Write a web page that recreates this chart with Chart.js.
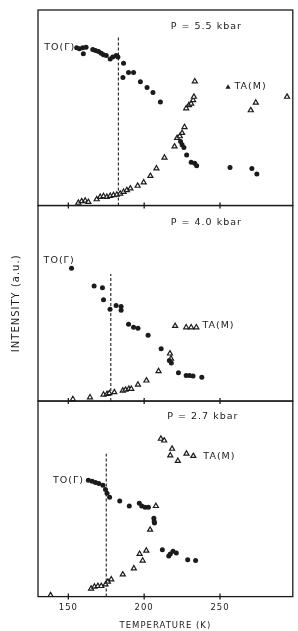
<!DOCTYPE html>
<html>
<head>
<meta charset="utf-8">
<script src="https://cdn.jsdelivr.net/npm/chart.js@4.4.0/dist/chart.umd.min.js"></script>
<style>
html, body { margin: 0; padding: 0; background: #fff; }
#wrap { width: 298px; height: 631px; }
</style>
</head>
<body>
<div id="wrap"><canvas id="chart"></canvas></div>
<script>
// temperature ticks (K) and panel pressures
const xTicks = [150, 200, 250];
const panelLabels = ['P = 5.5 kbar', 'P = 4.0 kbar', 'P = 2.7 kbar'];

// transition temperature (dashed line) and how high it reaches in each panel
const tcTemps = [183, 178, 175];
const tcTops = [87, 65, 73];

// P = 5.5 kbar
const to55Temps = [155.5, 157.3, 159.9, 159.5, 161.7, 166.1, 167.9, 169.9, 171.7, 173.2, 175.0, 177.6, 179.3, 181.6, 182.7, 186.4, 186.0, 189.7, 193.0, 197.5, 201.9, 205.8, 210.7, 224.0, 225.0, 226.2, 228.0, 231.0, 233.3, 234.6, 256.6, 271.0, 274.3];
const to55Int = [80.7, 80.2, 77.6, 80.7, 81.0, 79.8, 79.3, 78.8, 77.9, 77.1, 76.7, 75.0, 75.9, 76.7, 75.9, 72.8, 65.5, 68.1, 68.1, 63.3, 60.4, 57.8, 53.0, 32.8, 31.1, 29.7, 25.9, 22.1, 21.6, 20.3, 19.5, 19.0, 16.1];
const ta55Temps = [156.6, 158.8, 161.1, 163.2, 168.7, 171.0, 173.2, 175.4, 177.6, 179.8, 182.0, 184.2, 186.4, 188.6, 190.9, 195.7, 199.7, 204.1, 208.1, 213.4, 220.0, 221.7, 223.5, 225.0, 226.6, 227.7, 229.5, 231.0, 232.3, 232.8, 233.4, 270.3, 273.6, 294.2];
const ta55Int = [1.4, 2.2, 2.5, 1.8, 3.2, 4.4, 4.8, 4.4, 4.9, 5.3, 5.6, 6.1, 7.0, 7.9, 8.7, 10.1, 11.8, 15.1, 19.0, 24.5, 30.2, 34.5, 35.4, 37.1, 40.1, 49.7, 51.3, 52.1, 53.9, 55.6, 63.5, 48.7, 52.6, 55.6];

// P = 4.0 kbar
const to40Temps = [152.1, 167.0, 172.5, 173.2, 177.5, 181.5, 184.8, 184.8, 189.7, 193.0, 195.9, 202.6, 211.2, 216.6, 217.9, 222.6, 227.7, 229.9, 232.2, 238.0];
const to40Int = [67.9, 58.8, 57.9, 51.8, 47.0, 48.9, 48.4, 46.4, 39.3, 37.7, 37.2, 33.7, 26.7, 20.7, 19.5, 14.5, 13.1, 13.1, 12.8, 12.2];
const ta40Temps = [153.0, 164.3, 173.2, 175.5, 177.0, 180.3, 185.9, 187.7, 189.9, 191.5, 195.9, 201.5, 209.5, 217.0, 217.7, 220.4, 227.7, 231.0, 234.4];
const ta40Int = [1.0, 1.9, 3.3, 3.6, 4.0, 4.5, 5.3, 5.8, 6.2, 6.2, 8.4, 10.5, 15.3, 24.3, 21.7, 38.4, 37.7, 37.7, 37.7];

// P = 2.7 kbar
const to27Temps = [163.2, 165.7, 167.9, 170.1, 172.8, 174.5, 175.5, 177.2, 183.9, 190.2, 196.8, 198.4, 200.6, 202.8, 206.4, 206.6, 206.8, 212.0, 216.2, 217.2, 219.0, 221.2, 228.7, 233.9];
const to27Int = [59.5, 59.0, 58.4, 57.9, 57.0, 54.8, 52.8, 50.8, 48.9, 46.3, 47.7, 46.3, 45.7, 45.7, 40.1, 38.4, 37.6, 24.0, 20.7, 21.8, 23.2, 22.3, 18.9, 18.4];
const ta27Temps = [138.3, 165.0, 167.2, 169.5, 171.7, 174.5, 176.1, 178.3, 185.9, 193.2, 197.0, 199.0, 201.4, 203.9, 207.7, 211.0, 213.2, 218.4, 217.2, 222.2, 227.9, 232.4];
const ta27Int = [0.7, 4.1, 5.1, 5.4, 5.4, 6.2, 7.6, 8.8, 11.3, 14.4, 21.8, 18.4, 23.5, 34.2, 46.3, 80.7, 79.8, 75.6, 72.2, 69.4, 73.1, 71.9];

const panelAxes = ['y1', 'y2', 'y3'];
const panels = [
    {toT: to55Temps, toI: to55Int, taT: ta55Temps, taI: ta55Int},
    {toT: to40Temps, toI: to40Int, taT: ta40Temps, taI: ta40Int},
    {toT: to27Temps, toI: to27Int, taT: ta27Temps, taI: ta27Int}
];

// text placed in data coordinates of each panel
const notes = [
    {axis: 'y1', text: panelLabels[0], x: 241, y: 91.7, align: 'center'},
    {axis: 'y1', text: 'TO(Γ)', x: 154.5, y: 81, align: 'right'},
    {axis: 'y1', text: 'TA(M)', x: 259.5, y: 60.7, align: 'left', marker: 255.3},
    {axis: 'y2', text: panelLabels[1], x: 241, y: 91.5, align: 'center'},
    {axis: 'y2', text: 'TO(Γ)', x: 133.7, y: 71.8, align: 'left'},
    {axis: 'y2', text: 'TA(M)', x: 238.4, y: 38.8, align: 'left'},
    {axis: 'y3', text: panelLabels[2], x: 238.7, y: 91.9, align: 'center'},
    {axis: 'y3', text: 'TO(Γ)', x: 160.3, y: 59.4, align: 'right'},
    {axis: 'y3', text: 'TA(M)', x: 239, y: 71.6, align: 'left'}
];

const ink = '#1b1b1b';
const fontFamily = '"DejaVu Sans", sans-serif';

function pts(xs, ys) {
    return xs.map((x, i) => ({x: x, y: ys[i]}));
}

const datasets = [];
panels.forEach((p, i) => {
    datasets.push({
        label: 'TO(Γ)',
        data: pts(p.toT, p.toI),
        yAxisID: panelAxes[i],
        pointStyle: 'circle',
        pointRadius: 2.5,
        backgroundColor: ink,
        borderColor: ink,
        borderWidth: 0
    });
    datasets.push({
        label: 'TA(M)',
        data: pts(p.taT, p.taI),
        yAxisID: panelAxes[i],
        pointStyle: 'triangle',
        pointRadius: 2.9,
        backgroundColor: '#ffffff',
        borderColor: ink,
        borderWidth: 1.2
    });
    datasets.push({
        type: 'line',
        label: 'Tc',
        data: [{x: tcTemps[i], y: 0}, {x: tcTemps[i], y: tcTops[i]}],
        yAxisID: panelAxes[i],
        borderColor: ink,
        borderWidth: 1.1,
        borderDash: [3, 2],
        pointRadius: 0,
        fill: false
    });
});

// frames, tick crosses and in-panel text
const panelDecor = {
    id: 'panelDecor',
    beforeDraw(chart) {
        // the lettering of the original is widely spaced
        chart.ctx.letterSpacing = '1px';
    },
    afterDraw(chart) {
        const ctx = chart.ctx;
        const area = chart.chartArea;
        const xs = chart.scales.x;
        ctx.save();
        ctx.strokeStyle = ink;
        ctx.lineWidth = 1.3;
        panelAxes.forEach(id => {
            const s = chart.scales[id];
            ctx.strokeRect(area.left, s.top, area.right - area.left, s.bottom - s.top);
            xTicks.forEach(t => {
                const px = xs.getPixelForValue(t);
                ctx.beginPath();
                ctx.moveTo(px, s.bottom - 3);
                ctx.lineTo(px, s.bottom + 3);
                ctx.stroke();
            });
        });
        ctx.fillStyle = ink;
        ctx.font = '9.5px ' + fontFamily;
        ctx.textBaseline = 'middle';
        notes.forEach(n => {
            const s = chart.scales[n.axis];
            const px = xs.getPixelForValue(n.x);
            const py = s.getPixelForValue(n.y);
            ctx.textAlign = n.align;
            ctx.fillText(n.text, px, py);
            if (n.marker) {
                const mx = xs.getPixelForValue(n.marker);
                ctx.beginPath();
                ctx.moveTo(mx, py - 2.6);
                ctx.lineTo(mx + 2.6, py + 2);
                ctx.lineTo(mx - 2.6, py + 2);
                ctx.closePath();
                ctx.fill();
            }
        });
        ctx.restore();
    }
};

function yAxis(title, weight) {
    return {
        type: 'linear',
        position: 'left',
        stack: 'panels',
        stackWeight: 1,
        weight: weight,
        min: 0,
        max: 100,
        ticks: {display: false},
        grid: {display: false, drawTicks: false},
        border: {display: false},
        title: {
            display: true,
            text: title,
            color: ink,
            font: {family: fontFamily, size: 10},
            padding: {top: 10, bottom: 16}
        }
    };
}

new Chart(document.getElementById('chart'), {
    type: 'scatter',
    data: {datasets: datasets},
    options: {
        responsive: true,
        maintainAspectRatio: false,
        animation: false,
        layout: {padding: {top: 10, right: 5, left: 0, bottom: 0}},
        plugins: {
            legend: {display: false},
            tooltip: {enabled: false}
        },
        scales: {
            x: {
                type: 'linear',
                min: 130,
                max: 298,
                afterBuildTicks: scale => {
                    scale.ticks = xTicks.map(v => ({value: v}));
                },
                ticks: {
                    color: ink,
                    padding: 6,
                    font: {family: fontFamily, size: 8.5}
                },
                grid: {display: false, drawTicks: false},
                border: {display: false},
                title: {
                    display: true,
                    text: 'TEMPERATURE (K)',
                    color: ink,
                    font: {family: fontFamily, size: 8.5},
                    padding: {top: 2, bottom: 0}
                }
            },
            y1: yAxis('', 3),
            y2: yAxis('INTENSITY (a.u.)', 2),
            y3: yAxis('', 1)
        }
    },
    plugins: [panelDecor]
});
</script>
</body>
</html>
